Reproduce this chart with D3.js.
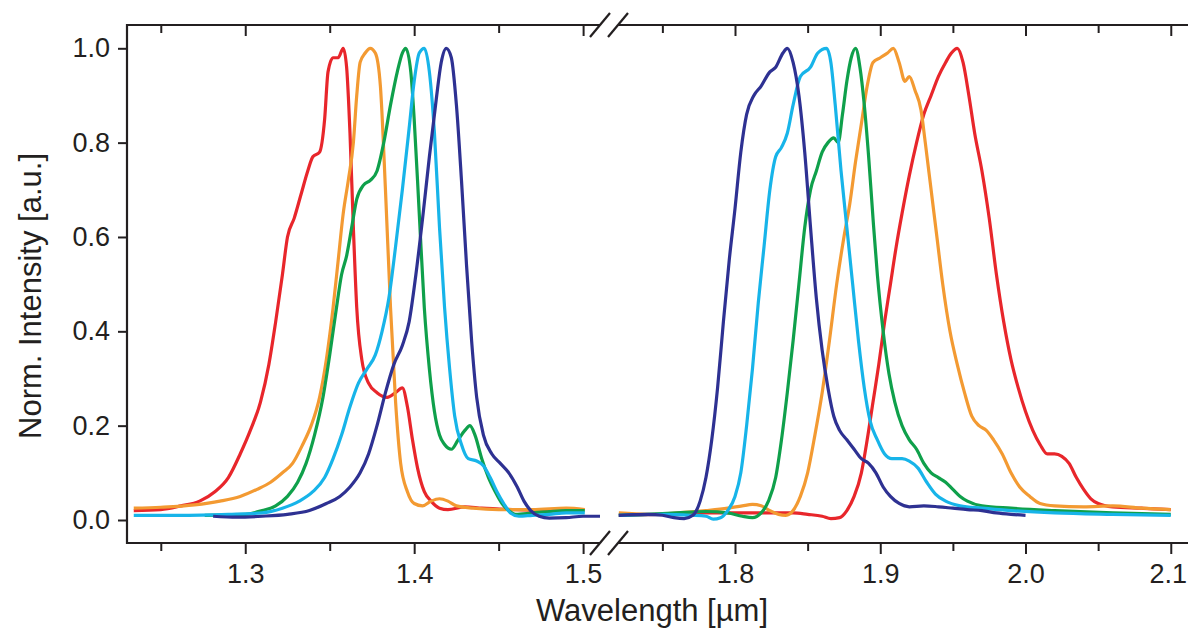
<!DOCTYPE html>
<html>
<head>
<meta charset="utf-8">
<script src="https://cdn.jsdelivr.net/npm/d3@7"></script>
<style>
  body { margin: 0; background: #fff; }
  text { font-family: "Liberation Sans", Arial, sans-serif; fill: #231f20; }
</style>
</head>
<body>
<svg id="chart"></svg>
<script>
// spectra, [wavelength (um), normalized intensity]
var redL = [[1.234,0.02],[1.25,0.022],[1.262,0.03],[1.273,0.04],[1.282,0.06],[1.29,0.09],[1.297,0.14],[1.303,0.19],[1.309,0.25],[1.314,0.33],[1.318,0.42],[1.322,0.52],[1.325,0.6],[1.329,0.64],[1.333,0.69],[1.337,0.74],[1.34,0.77],[1.344,0.78],[1.347,0.85],[1.349,0.95],[1.352,0.98],[1.355,0.98],[1.358,1.0],[1.36,0.96],[1.362,0.82],[1.364,0.62],[1.366,0.45],[1.369,0.34],[1.373,0.29],[1.378,0.27],[1.384,0.26],[1.389,0.27],[1.393,0.28],[1.396,0.24],[1.399,0.17],[1.402,0.11],[1.406,0.06],[1.41,0.04],[1.415,0.025],[1.42,0.022],[1.43,0.028],[1.44,0.025],[1.46,0.022],[1.48,0.02],[1.5,0.02]];
var orangeL = [[1.234,0.025],[1.25,0.027],[1.27,0.032],[1.285,0.04],[1.297,0.05],[1.307,0.065],[1.315,0.08],[1.322,0.1],[1.328,0.12],[1.334,0.16],[1.339,0.2],[1.344,0.26],[1.348,0.34],[1.352,0.45],[1.355,0.55],[1.358,0.65],[1.361,0.72],[1.364,0.8],[1.366,0.9],[1.368,0.97],[1.371,0.99],[1.374,1.0],[1.377,0.99],[1.38,0.92],[1.383,0.7],[1.386,0.45],[1.389,0.25],[1.392,0.12],[1.396,0.06],[1.4,0.035],[1.405,0.03],[1.41,0.04],[1.415,0.045],[1.42,0.04],[1.425,0.03],[1.435,0.025],[1.45,0.022],[1.47,0.022],[1.49,0.025],[1.501,0.022]];
var greenL = [[1.276,0.01],[1.3,0.012],[1.31,0.02],[1.318,0.03],[1.325,0.05],[1.331,0.08],[1.336,0.12],[1.341,0.18],[1.346,0.26],[1.35,0.35],[1.354,0.45],[1.357,0.52],[1.36,0.56],[1.363,0.62],[1.366,0.68],[1.37,0.71],[1.374,0.72],[1.378,0.74],[1.382,0.8],[1.386,0.88],[1.39,0.95],[1.393,0.99],[1.395,1.0],[1.398,0.95],[1.4,0.85],[1.403,0.65],[1.406,0.45],[1.409,0.32],[1.412,0.23],[1.415,0.18],[1.418,0.16],[1.422,0.15],[1.426,0.17],[1.43,0.19],[1.433,0.2],[1.436,0.18],[1.44,0.13],[1.444,0.09],[1.448,0.06],[1.452,0.035],[1.456,0.02],[1.46,0.012],[1.47,0.015],[1.48,0.018],[1.49,0.02],[1.501,0.02]];
var lightBlueL = [[1.234,0.01],[1.26,0.01],[1.29,0.012],[1.31,0.015],[1.322,0.025],[1.332,0.04],[1.34,0.06],[1.347,0.09],[1.352,0.13],[1.357,0.18],[1.362,0.24],[1.367,0.29],[1.372,0.32],[1.377,0.35],[1.381,0.4],[1.385,0.47],[1.389,0.58],[1.393,0.7],[1.397,0.83],[1.4,0.93],[1.403,0.99],[1.406,1.0],[1.409,0.95],[1.412,0.82],[1.415,0.62],[1.418,0.45],[1.421,0.32],[1.424,0.22],[1.428,0.16],[1.432,0.13],[1.437,0.125],[1.441,0.115],[1.445,0.09],[1.449,0.06],[1.453,0.035],[1.457,0.015],[1.462,0.008],[1.47,0.01],[1.48,0.012],[1.49,0.015],[1.501,0.015]];
var darkBlueL = [[1.281,0.008],[1.295,0.006],[1.31,0.008],[1.325,0.012],[1.338,0.02],[1.348,0.035],[1.356,0.05],[1.362,0.07],[1.368,0.1],[1.373,0.14],[1.378,0.2],[1.383,0.27],[1.388,0.33],[1.393,0.37],[1.397,0.42],[1.401,0.52],[1.405,0.64],[1.409,0.77],[1.413,0.89],[1.416,0.97],[1.419,1.0],[1.422,0.98],[1.425,0.88],[1.428,0.72],[1.431,0.54],[1.434,0.38],[1.437,0.26],[1.441,0.18],[1.446,0.14],[1.451,0.12],[1.456,0.1],[1.461,0.07],[1.465,0.04],[1.469,0.02],[1.474,0.008],[1.48,0.004],[1.49,0.005],[1.5,0.008],[1.51,0.008]];

var redR = [[1.72,0.01],[1.75,0.012],[1.78,0.015],[1.8,0.015],[1.82,0.015],[1.84,0.015],[1.85,0.012],[1.86,0.008],[1.866,0.003],[1.872,0.005],[1.877,0.02],[1.882,0.05],[1.887,0.1],[1.891,0.17],[1.895,0.25],[1.899,0.33],[1.903,0.42],[1.907,0.5],[1.911,0.58],[1.915,0.65],[1.92,0.73],[1.925,0.8],[1.93,0.86],[1.935,0.9],[1.94,0.94],[1.945,0.97],[1.949,0.99],[1.953,1.0],[1.957,0.97],[1.961,0.9],[1.965,0.82],[1.97,0.74],[1.975,0.64],[1.98,0.52],[1.985,0.42],[1.99,0.34],[1.995,0.28],[2.0,0.23],[2.005,0.19],[2.01,0.16],[2.015,0.14],[2.02,0.14],[2.025,0.135],[2.03,0.12],[2.035,0.09],[2.04,0.065],[2.045,0.045],[2.05,0.035],[2.06,0.028],[2.08,0.025],[2.1,0.022]];
var orangeR = [[1.72,0.015],[1.74,0.012],[1.76,0.015],[1.78,0.02],[1.795,0.025],[1.805,0.03],[1.812,0.033],[1.818,0.03],[1.824,0.02],[1.83,0.012],[1.835,0.01],[1.84,0.02],[1.845,0.05],[1.85,0.1],[1.855,0.18],[1.86,0.27],[1.865,0.38],[1.87,0.5],[1.875,0.6],[1.879,0.67],[1.883,0.76],[1.887,0.84],[1.891,0.92],[1.895,0.97],[1.9,0.98],[1.905,0.99],[1.909,1.0],[1.913,0.97],[1.917,0.93],[1.92,0.94],[1.924,0.91],[1.928,0.87],[1.931,0.8],[1.935,0.7],[1.939,0.6],[1.943,0.5],[1.948,0.4],[1.953,0.33],[1.958,0.27],[1.963,0.22],[1.968,0.2],[1.973,0.19],[1.978,0.17],[1.984,0.14],[1.99,0.1],[1.996,0.07],[2.003,0.05],[2.01,0.035],[2.02,0.03],[2.04,0.028],[2.06,0.03],[2.08,0.025],[2.1,0.022]];
var greenR = [[1.72,0.01],[1.74,0.012],[1.76,0.015],[1.78,0.018],[1.795,0.015],[1.805,0.008],[1.812,0.005],[1.818,0.015],[1.823,0.04],[1.828,0.09],[1.832,0.17],[1.836,0.27],[1.84,0.38],[1.844,0.5],[1.848,0.62],[1.852,0.7],[1.856,0.74],[1.86,0.78],[1.864,0.8],[1.868,0.81],[1.871,0.8],[1.874,0.86],[1.877,0.93],[1.88,0.98],[1.883,1.0],[1.886,0.96],[1.889,0.88],[1.892,0.77],[1.895,0.64],[1.898,0.52],[1.902,0.4],[1.906,0.31],[1.91,0.25],[1.915,0.2],[1.92,0.17],[1.925,0.15],[1.93,0.12],[1.935,0.1],[1.94,0.09],[1.945,0.08],[1.95,0.065],[1.955,0.05],[1.96,0.04],[1.97,0.03],[1.99,0.025],[2.02,0.02],[2.06,0.015],[2.1,0.012]];
var lightBlueR = [[1.72,0.01],[1.75,0.012],[1.77,0.01],[1.78,0.008],[1.785,0.002],[1.79,0.005],[1.795,0.02],[1.8,0.05],[1.804,0.1],[1.808,0.2],[1.812,0.32],[1.816,0.46],[1.82,0.58],[1.824,0.7],[1.828,0.77],[1.832,0.79],[1.836,0.82],[1.84,0.88],[1.845,0.94],[1.852,0.96],[1.857,0.99],[1.863,1.0],[1.866,0.97],[1.869,0.88],[1.873,0.74],[1.877,0.62],[1.881,0.5],[1.885,0.38],[1.889,0.28],[1.893,0.21],[1.898,0.17],[1.903,0.14],[1.908,0.13],[1.915,0.13],[1.92,0.125],[1.926,0.11],[1.932,0.08],[1.938,0.055],[1.945,0.04],[1.955,0.03],[1.97,0.025],[1.99,0.02],[2.02,0.015],[2.06,0.012],[2.1,0.01]];
var darkBlueR = [[1.72,0.01],[1.74,0.012],[1.75,0.01],[1.758,0.005],[1.765,0.003],[1.771,0.01],[1.776,0.04],[1.78,0.09],[1.784,0.17],[1.788,0.28],[1.792,0.42],[1.796,0.55],[1.8,0.66],[1.804,0.78],[1.808,0.86],[1.813,0.9],[1.818,0.92],[1.824,0.95],[1.828,0.96],[1.833,0.99],[1.836,1.0],[1.84,0.97],[1.844,0.9],[1.848,0.78],[1.852,0.62],[1.856,0.47],[1.86,0.36],[1.864,0.28],[1.868,0.22],[1.872,0.19],[1.877,0.17],[1.882,0.15],[1.887,0.13],[1.892,0.12],[1.897,0.1],[1.902,0.07],[1.907,0.05],[1.913,0.035],[1.92,0.028],[1.93,0.03],[1.94,0.028],[1.95,0.025],[1.96,0.022],[1.97,0.02],[1.98,0.015],[1.99,0.012],[2.0,0.01]];

var colors = ["#e8262b", "#f39a32", "#0fa04b", "#17b4e9", "#2e3192"];
var leftSeries = [redL, orangeL, greenL, lightBlueL, darkBlueL];
var rightSeries = [redR, orangeR, greenR, lightBlueR, darkBlueR];

var yTicks = [0, 0.2, 0.4, 0.6, 0.8, 1.0];
var xMajorL = [1.3, 1.4, 1.5], xMinorL = [1.25, 1.35, 1.45];
var xMajorR = [1.8, 1.9, 2.0, 2.1], xMinorR = [1.75, 1.85, 1.95, 2.05];

var svg = d3.select("#chart")
            .attr("width", 1188)
            .attr("height", 633);

var top_ = 25, bottom = 543, left = 127;

var xL = d3.scaleLinear().domain([1.23, 1.51]).range([127, 600]);
var xR = d3.scaleLinear().domain([1.72, 2.11]).range([618.8, 1185.3]);
var y = d3.scaleLinear().domain([0, 1]).range([520, 48.3]);

var ink = "#231f20";

// curves
function drawGroup(series, x) {
	var line = d3.line()
		.x(function(d) { return x(d[0]); })
		.y(function(d) { return y(d[1]); })
		.curve(d3.curveMonotoneX);
	series.forEach(function(s, i) {
		svg.append("path")
			.attr("d", line(s))
			.attr("fill", "none")
			.attr("stroke", colors[i])
			.attr("stroke-width", 3.2)
			.attr("stroke-linejoin", "round");
	});
}
drawGroup(leftSeries, xL);
drawGroup(rightSeries, xR);

// x axes, bottom (outward ticks) and top (inward ticks)
function xAxes(x, major, minor) {
	var fmt = d3.format(".1f");
	var b = svg.append("g").attr("transform", "translate(0," + bottom + ")");
	b.call(d3.axisBottom(x).tickValues(major).tickSize(11).tickPadding(10).tickFormat(fmt));
	b.append("g").call(d3.axisBottom(x).tickValues(minor).tickSize(8).tickFormat(""));
	var t = svg.append("g").attr("transform", "translate(0," + top_ + ")");
	t.call(d3.axisBottom(x).tickValues(major).tickSize(11).tickFormat(""));
	t.append("g").call(d3.axisBottom(x).tickValues(minor).tickSize(8).tickFormat(""));
	return b;
}
xAxes(xL, xMajorL, xMinorL);
var bR = xAxes(xR, xMajorR, xMinorR);

svg.selectAll(".domain").remove();
svg.selectAll(".tick line").attr("stroke", ink).attr("stroke-width", 2);
svg.selectAll(".tick text")
	.attr("font-size", 27)
	.attr("fill", ink)
	.style("font-family", "'Liberation Sans', Arial, sans-serif");
// keep the last label inside the window
bR.selectAll(".tick text").filter(function(d) { return d === 2.1; }).attr("dx", -3);

// y axis
var ya = svg.append("g").attr("transform", "translate(" + left + ",0)")
	.call(d3.axisLeft(y).tickValues(yTicks).tickSize(9).tickPadding(8).tickFormat(d3.format(".1f")));
ya.select(".domain").remove();
ya.selectAll(".tick line").attr("stroke", ink).attr("stroke-width", 2);
ya.selectAll(".tick text")
	.attr("font-size", 27)
	.attr("fill", ink)
	.style("font-family", "'Liberation Sans', Arial, sans-serif");

// frame lines with axis break
[top_, bottom].forEach(function(yy) {
	svg.append("line").attr("x1", left - 1).attr("x2", 600).attr("y1", yy).attr("y2", yy)
		.attr("stroke", ink).attr("stroke-width", 2.2);
	svg.append("line").attr("x1", 618).attr("x2", 1188).attr("y1", yy).attr("y2", yy)
		.attr("stroke", ink).attr("stroke-width", 2.2);
	[600, 618].forEach(function(cx) {
		svg.append("line")
			.attr("x1", cx - 10).attr("y1", yy + 12)
			.attr("x2", cx + 10).attr("y2", yy - 12)
			.attr("stroke", ink).attr("stroke-width", 2.2);
	});
});
svg.append("line").attr("x1", left).attr("x2", left).attr("y1", top_ - 1).attr("y2", bottom + 1)
	.attr("stroke", ink).attr("stroke-width", 2.2);

// titles
svg.append("text")
	.attr("x", 652).attr("y", 621)
	.attr("text-anchor", "middle")
	.attr("font-size", 31)
	.text("Wavelength [µm]");

svg.append("text")
	.attr("transform", "translate(41,296) rotate(-90)")
	.attr("text-anchor", "middle")
	.attr("font-size", 31)
	.text("Norm. Intensity [a.u.]");
</script>
</body>
</html>
